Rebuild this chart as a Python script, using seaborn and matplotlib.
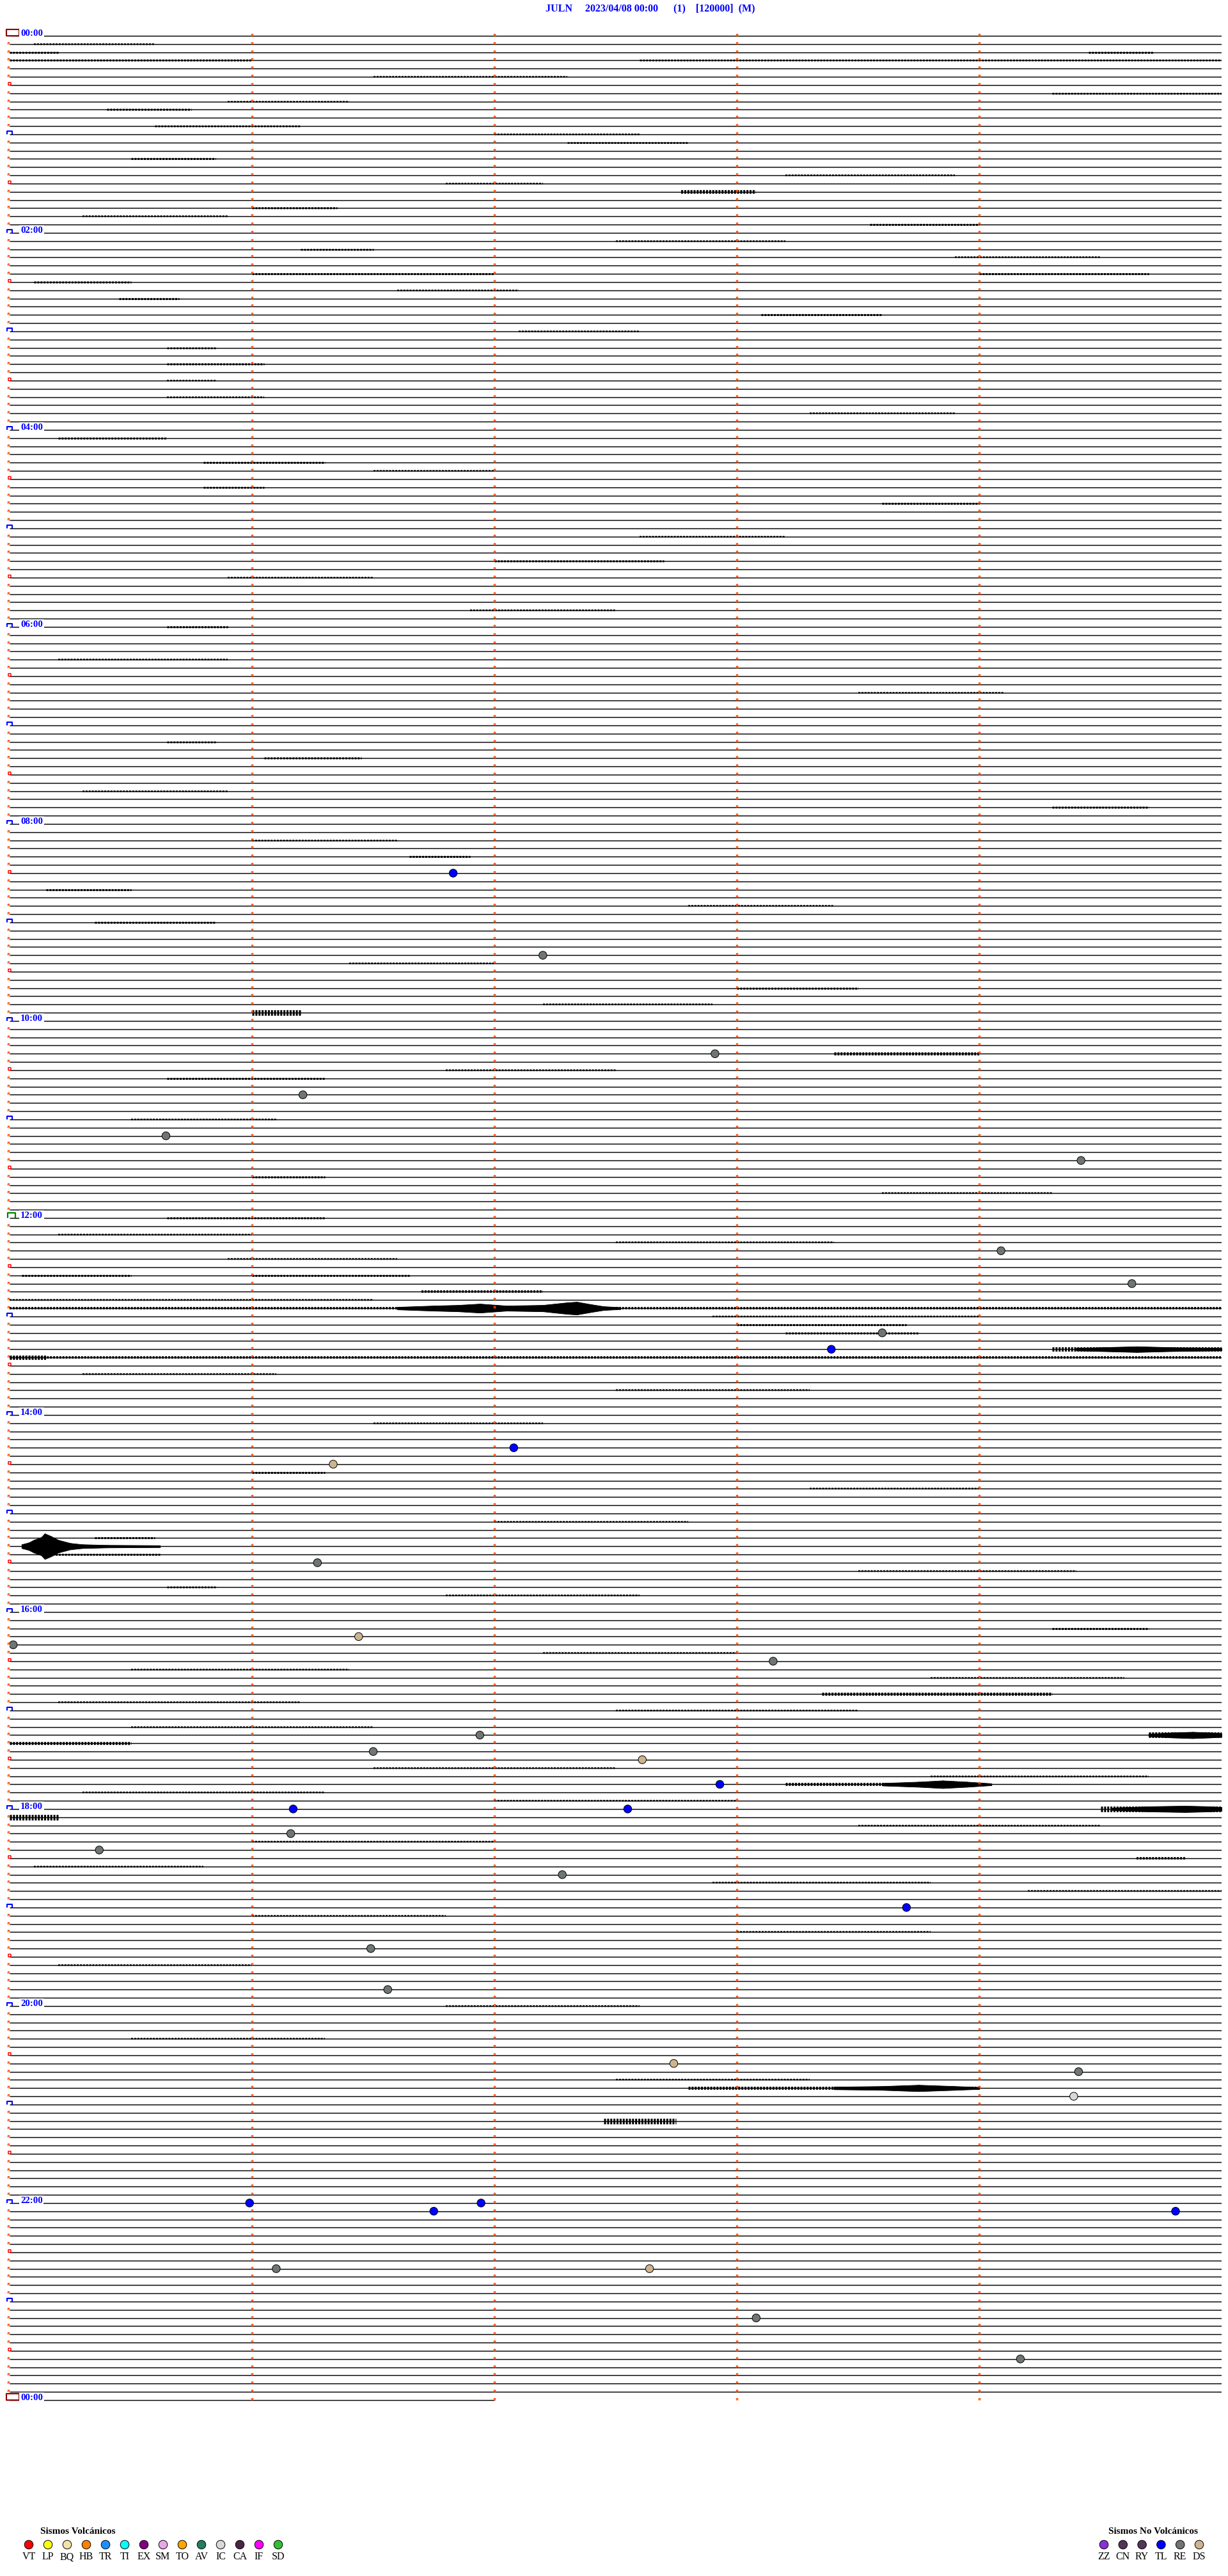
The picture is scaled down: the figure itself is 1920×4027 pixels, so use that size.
import matplotlib
matplotlib.use('Agg')
import matplotlib.pyplot as plt
from matplotlib.path import Path
import pandas as pd
import seaborn as sns

# helicorder: 5 minutes per trace line, 12 lines per hour, 288 lines per day
N_ROWS = 288
PX_ROW = 12.833          # pixel height of one trace line
PX_MIN = 379.0           # pixels per minute along a line

titleText = "JULN     2023/04/08 00:00      (1)    [120000]  (M)"

volcCodes = ['VT', 'LP', 'BQ', 'HB', 'TR', 'TI', 'EX', 'SM', 'TO', 'AV', 'IC', 'CA', 'IF', 'SD']
volcColors = ['#ff0000', '#ffff00', '#f2e2a8', '#ff8000', '#1e8fff', '#00ffff', '#800080',
              '#e8a8e8', '#ffa500', '#1f7f60', '#d8d8d8', '#4a2545', '#ff00ff', '#30c030']
noVolcCodes = ['ZZ', 'CN', 'RY', 'TL', 'RE', 'DS']
noVolcColors = ['#8a30d8', '#54345a', '#54345a', '#0000ff', '#6f756f', '#cdb48e']

# classified events: trace line, minute along the line, type
eventRows = [102, 112, 124, 129, 134, 137, 148, 152, 158, 160, 172, 174, 186, 195, 196,
             198, 207, 209, 210, 213, 216, 216, 219, 221, 224, 228, 233, 238, 247, 248,
             251, 264, 265, 264, 265, 272, 272, 278, 283]
eventMinutes = [1.83, 2.20, 2.91, 1.21, 0.645, 4.42, 4.09, 4.63, 3.60, 3.39, 2.08, 1.335, 1.27, 1.44, 0.015,
                3.15, 1.94, 1.50, 2.61, 2.93, 1.17, 2.55, 1.16, 0.37, 2.28, 3.70, 1.49, 1.56, 2.74, 4.41,
                4.39, 0.99, 1.75, 1.945, 4.81, 1.10, 2.64, 3.08, 4.17]
eventTypes = ['TL', 'RE', 'RE', 'RE', 'RE', 'RE', 'RE', 'RE', 'RE', 'TL', 'TL', 'DS', 'RE', 'DS', 'RE',
              'RE', 'RE', 'RE', 'DS', 'TL', 'TL', 'TL', 'RE', 'RE', 'RE', 'TL', 'RE', 'RE', 'DS', 'RE',
              'IC', 'TL', 'TL', 'TL', 'TL', 'RE', 'DS', 'RE', 'RE']

# noisy stretches of trace: line, start minute, end minute, half amplitude (px)
noiseRows = [2, 2, 3, 3, 7, 9, 11, 13, 15, 19, 21, 23, 26, 29, 29, 30, 32, 34, 38, 40,
             49, 52, 55, 57, 64, 72, 86, 88, 94, 100, 104, 108, 116, 119, 124, 127, 139, 144,
             151, 151, 153, 155, 157, 158, 160, 161, 161, 175, 183, 185, 189, 194, 202, 207, 208,
             213, 216, 217, 222, 250, 254,
             1, 5, 8, 12, 17, 18, 22, 25, 27, 31, 36, 42, 44, 46, 53, 61, 66, 70, 76, 80,
             92, 98, 106, 113, 118, 126, 132, 141, 146, 147, 149, 154, 156, 163, 165, 169, 177,
             181, 187, 190, 197, 199, 200, 203, 204, 206, 211, 212, 214, 215, 218, 220, 223, 225,
             226, 229, 231, 235, 240, 244, 249, 252, 253, 256, 258, 262, 266, 270, 274, 280, 284]
noiseStart = [0.0, 4.45, 0.0, 2.6, 4.3, 0.4, 0.6, 2.3, 0.5, 2.77, 1.0, 3.55, 1.2, 1.0, 4.0, 0.1, 0.45, 3.1, 0.65, 0.65,
              0.2, 0.8, 0.8, 3.6, 2.0, 0.65, 0.65, 1.05, 4.3, 1.65, 0.15, 0.35, 3.0, 1.0, 3.4, 0.65, 1.0, 0.65,
              0.05, 1.0, 1.7, 0.0, 3.0, 3.2, 4.3, 0.0, 0.0, 1.0, 0.35, 0.15, 0.65, 4.3, 3.35, 4.7, 0.0,
              3.2, 4.5, 0.0, 4.65, 2.8, 2.45,
              0.1, 1.5, 0.9, 2.0, 3.2, 1.8, 0.3, 2.5, 3.9, 1.6, 2.1, 0.65, 0.65, 3.3, 1.5, 2.6, 0.9, 1.9, 0.2, 3.5,
              0.3, 1.0, 2.8, 1.4, 2.2, 1.8, 0.5, 3.6, 0.2, 2.5, 0.9, 0.0, 2.9, 0.3, 2.5, 1.5, 3.3,
              2.0, 3.5, 1.8, 2.2, 0.5, 3.8, 0.2, 2.5, 0.5, 1.5, 3.8, 0.3, 2.0, 3.5, 1.0, 0.1, 2.9,
              4.2, 1.0, 3.0, 0.2, 1.8, 0.5, 2.5, 0.8, 3.9, 1.5, 3.4, 2.3, 4.0, 3.0, 0.4, 3.6, 2.6]
noiseEnd = [0.2, 4.72, 1.0, 5.0, 5.0, 0.75, 1.2, 2.8, 0.85, 3.08, 1.35, 4.0, 1.5, 2.0, 4.7, 0.5, 0.7, 3.6, 0.85, 1.05,
            0.65, 1.3, 1.05, 4.0, 2.7, 0.9, 0.85, 1.45, 4.7, 1.9, 0.5, 0.85, 3.5, 1.2, 4.0, 1.3, 1.3, 1.3,
            0.5, 1.65, 2.2, 5.0, 3.7, 3.75, 5.0, 5.0, 0.15, 1.3, 0.6, 0.62, 0.85, 4.7, 4.3, 5.0, 0.5,
            4.0, 5.0, 0.2, 4.85, 4.0, 2.75,
            0.6, 2.3, 1.4, 2.6, 3.9, 2.2, 0.9, 3.2, 4.5, 2.1, 2.6, 0.85, 1.05, 3.9, 2.0, 3.2, 1.5, 2.5, 0.9, 4.1,
            0.9, 1.6, 3.4, 2.0, 2.9, 2.5, 1.1, 4.3, 1.0, 3.4, 1.6, 1.5, 4.0, 1.1, 3.3, 2.2, 4.0,
            2.8, 4.4, 2.6, 3.0, 1.4, 4.6, 1.2, 3.5, 1.5, 2.5, 4.7, 1.3, 3.0, 4.5, 2.0, 0.8, 3.8,
            5.0, 1.8, 3.8, 1.0, 2.6, 1.3, 3.3, 1.6, 4.6, 2.3, 4.2, 3.1, 4.8, 3.8, 1.2, 4.4, 3.4]
noiseAmp = [1.2, 1.2, 1.2, 1.0, 1.0, 1.2, 1.0, 1.0, 1.2, 2.5, 1.2, 1.2, 1.0, 1.2, 1.2, 1.2, 1.2, 1.2, 1.0, 1.2,
            1.2, 1.2, 1.0, 1.2, 1.2, 1.2, 1.0, 1.2, 1.2, 1.2, 1.2, 1.2, 1.2, 4.0, 2.0, 1.2, 1.2, 1.2,
            1.2, 1.2, 1.5, 1.5, 1.2, 1.2, 3.0, 1.5, 3.0, 1.2, 1.2, 1.2, 1.0, 1.2, 2.0, 4.0, 2.0,
            2.0, 4.0, 4.0, 1.5, 2.0, 4.0] + [0.9] * 61

# larger bursts: envelope (minutes, half amplitude px)
burstRows = [155, 184, 213, 250, 160, 207, 216]
burstMinutes = [[1.60, 1.75, 1.85, 1.94, 2.05, 2.20, 2.30, 2.34, 2.40, 2.45, 2.52],
                [0.05, 0.08, 0.10, 0.13, 0.145, 0.17, 0.20, 0.25, 0.30, 0.40, 0.62],
                [3.60, 3.75, 3.85, 3.95, 4.05],
                [3.40, 3.60, 3.75, 3.90, 4.00],
                [4.40, 4.55, 4.65, 4.80, 5.00],
                [4.70, 4.80, 4.88, 4.95, 5.00],
                [4.55, 4.70, 4.85, 4.95, 5.00]]
burstAmps = [[2.0, 4.0, 5.0, 7.0, 4.0, 5.0, 9.0, 10.0, 6.0, 3.0, 1.5],
             [3.0, 6.0, 10.0, 14.0, 20.0, 16.0, 10.0, 5.0, 3.0, 2.0, 1.5],
             [2.0, 4.0, 6.0, 4.0, 1.5],
             [2.0, 3.0, 5.0, 3.0, 1.5],
             [2.0, 3.5, 4.5, 3.0, 2.0],
             [2.0, 4.0, 5.0, 4.0, 3.0],
             [2.0, 4.0, 5.0, 4.0, 3.0]]


def openBox(w, h):
    return Path([(-w / 2, 0), (-w / 2, h), (w / 2, h), (w / 2, 0)],
                [Path.MOVETO, Path.LINETO, Path.LINETO, Path.LINETO])


def closedBox(w, h):
    return Path([(-w / 2, 0), (-w / 2, h), (w / 2, h), (w / 2, 0), (-w / 2, 0)],
                [Path.MOVETO, Path.LINETO, Path.LINETO, Path.LINETO, Path.CLOSEPOLY])


def markerPts(wpx, hpx):
    # custom path markers are scaled so their largest half-extent is markersize/2
    return max(wpx, hpx) * 0.72


def makeViz():
    sns.set_theme(style="white")
    plt.rcParams['font.family'] = ['Liberation Serif', 'DejaVu Serif']
    plt.rcParams['lines.scale_dashes'] = False

    fig = plt.figure(figsize=(19.2, 40.27), dpi=100)
    top = 56 - 2 * PX_ROW
    bot = 56 + 290 * PX_ROW
    ax = fig.add_axes([15 / 1920, 1 - bot / 4027, 1895 / 1920, (bot - top) / 4027])
    ax.set_xlim(0, 5)
    ax.set_ylim(290, -2)
    ax.axis('off')

    # baseline traces
    hourRows = list(range(0, N_ROWS + 1, 12))
    ax.hlines(list(range(N_ROWS)), 0, 5, color='black', lw=1.05, zorder=2)
    ax.hlines(N_ROWS, 0, 2, color='black', lw=1.05, zorder=2)

    # noisy stretches drawn as broken thick strokes
    for r, s, e, a in zip(noiseRows, noiseStart, noiseEnd, noiseAmp):
        ax.hlines(r, s, e, color='black', lw=2 * a * 0.72 + 0.5,
                  linestyles=[(0, (2.2, 1.3))], zorder=2)
    for r, xs, amps in zip(burstRows, burstMinutes, burstAmps):
        lo = [r - a / PX_ROW for a in amps]
        hi = [r + a / PX_ROW for a in amps]
        ax.fill_between(xs, lo, hi, color='black', lw=0.6, edgecolor='black', zorder=2)
        ax.vlines(xs, lo, hi, color='black', lw=1.0, zorder=2)

    # minute ticks along every line
    for m in [1, 2, 3, 4]:
        ax.plot([m] * (N_ROWS + 1), list(range(N_ROWS + 1)), ls='none', marker=openBox(5, 5.5),
                markersize=markerPts(5, 5.5), mec='#ff4a00', mfc='none', mew=1.0, zorder=3)

    # left-hand line markers
    plainRows = [r for r in range(N_ROWS + 1) if r % 6 != 0]
    halfRows = [r for r in range(N_ROWS + 1) if r % 12 == 6]
    blueRows = [r for r in hourRows if r not in (0, 144, N_ROWS)]
    ax.plot([-2.0 / PX_MIN] * len(plainRows), plainRows, ls='none', marker=openBox(5.5, 5.5),
            markersize=markerPts(5.5, 5.5), mec='#ff4a00', mfc='none', mew=1.0,
            clip_on=False, zorder=3)
    ax.plot([-0.5 / PX_MIN] * len(halfRows), halfRows, ls='none', marker=closedBox(8.5, 8.5),
            markersize=markerPts(8.5, 8.5), mec='#ff0000', mfc='none', mew=1.1,
            clip_on=False, zorder=3)
    ax.plot([0.0] * len(blueRows), blueRows, ls='none', marker=openBox(11, 8),
            markersize=markerPts(11, 8), mec='#0000ff', mfc='none', mew=1.5,
            clip_on=False, zorder=3)
    ax.plot([2.5 / PX_MIN], [144], ls='none', marker=openBox(16, 11), markersize=markerPts(16, 11),
            mec='#008000', mfc='none', mew=1.6, clip_on=False, zorder=3)
    ax.plot([4.5 / PX_MIN] * 2, [0, N_ROWS], ls='none', marker=closedBox(20, 10.5),
            markersize=markerPts(20, 10.5), mec='#8b0000', mfc='none', mew=1.5,
            clip_on=False, zorder=3)

    # hour labels every two hours
    labelRows = [r for r in hourRows if (r // 12) % 2 == 0]
    hourLabels = [f"{(r // 12) % 24:02d}:00" for r in labelRows]
    for r, lab in zip(labelRows, hourLabels):
        ax.text(17 / PX_MIN, r, lab, ha='left', va='baseline', fontsize=10.7, fontweight='bold',
                color='#0000ff', zorder=4,
                bbox=dict(facecolor='white', edgecolor='none', pad=1.2))

    # classified events
    events = pd.DataFrame({'minute': eventMinutes, 'row': eventRows, 'type': eventTypes})
    palette = dict(zip(volcCodes + noVolcCodes, volcColors + noVolcColors))
    sns.scatterplot(data=events, x='minute', y='row', hue='type', palette=palette, s=80,
                    edgecolor='black', linewidth=0.7, legend=False, ax=ax, zorder=5)
    ax.set_xlim(0, 5)
    ax.set_ylim(290, -2)
    ax.axis('off')

    fig.text(853 / 1920, 1 - 13 / 4027, titleText, ha='left', va='center', fontsize=11.5,
             fontweight='bold', color='#0000ff')

    # legend of event types
    leg = fig.add_axes([0, 0, 1, 1], zorder=-1)
    volcX = [45 + 30 * i for i in range(len(volcCodes))]
    noVolcX = [1726 + 29.8 * i for i in range(len(noVolcCodes))]
    legDf = pd.DataFrame({'x': volcX + noVolcX, 'y': [3978] * (len(volcX) + len(noVolcX)),
                          'code': volcCodes + ['n' + c for c in noVolcCodes]})
    legPal = dict(zip(legDf['code'], volcColors + noVolcColors))
    sns.scatterplot(data=legDf, x='x', y='y', hue='code', palette=legPal, s=95,
                    edgecolor='black', linewidth=0.7, legend=False, ax=leg)
    leg.set_xlim(0, 1920)
    leg.set_ylim(4027, 0)
    leg.axis('off')
    for x, c in zip(volcX + noVolcX, volcCodes + noVolcCodes):
        leg.text(x, 3997, c, ha='center', va='center', fontsize=11.5, color='black')
    leg.text(63, 3957, 'Sismos Volcánicos', ha='left', va='center', fontsize=11,
             fontweight='bold', color='black')
    leg.text(1733, 3957, 'Sismos No Volcánicos', ha='left', va='center', fontsize=11,
             fontweight='bold', color='black')

    fig.savefig('out.png', dpi=100)
    plt.close(fig)


if __name__ == "__main__":
    makeViz()
